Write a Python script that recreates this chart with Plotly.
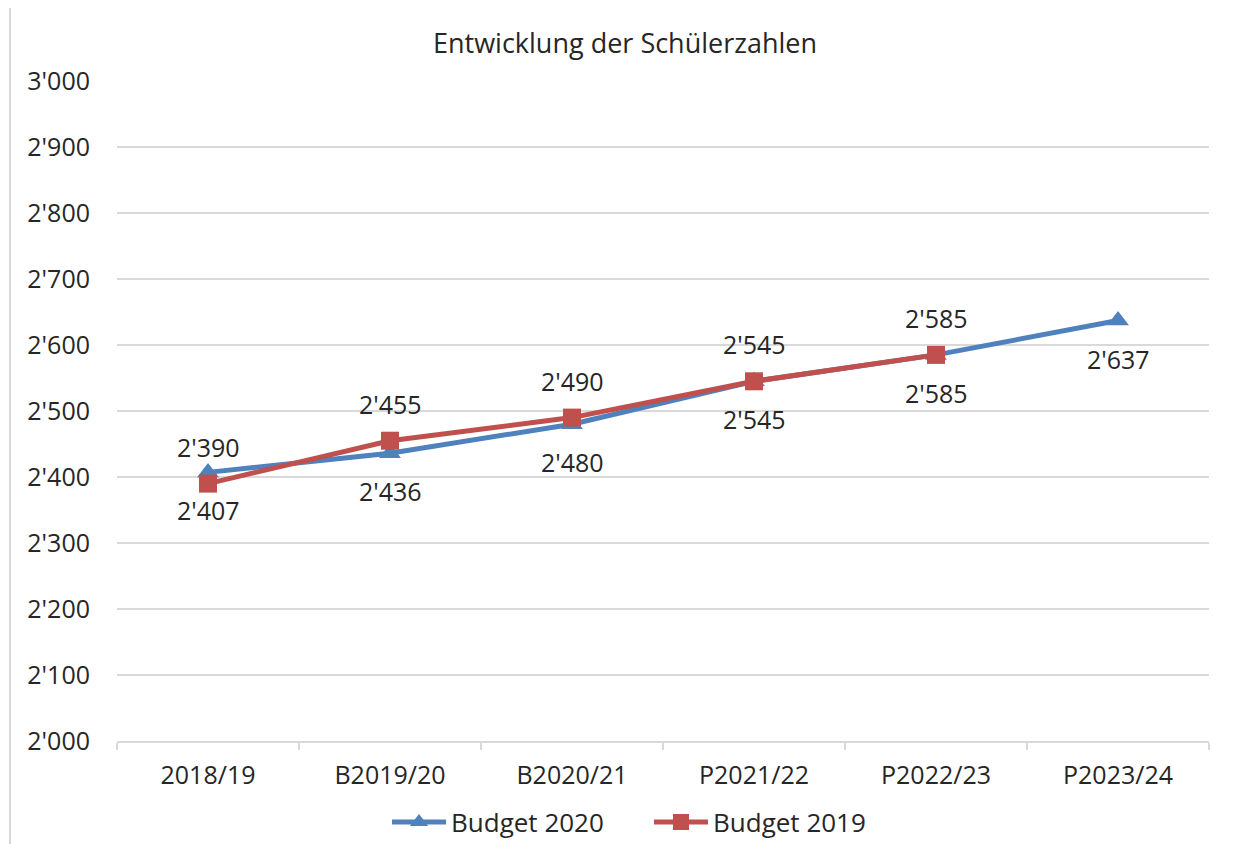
import plotly.graph_objects as go

categories = ["2018/19", "B2019/20", "B2020/21", "P2021/22", "P2022/23", "P2023/24"]
budget_2020 = [2407, 2436, 2480, 2545, 2585, 2637]
budget_2019 = [2390, 2455, 2490, 2545, 2585, None]
y_ticks = [2000, 2100, 2200, 2300, 2400, 2500, 2600, 2700, 2800, 2900, 3000]

def fmt(v):
    return f"{v:,}".replace(",", "'")

FONT = "Open Sans, Noto Sans, sans-serif"
TXT = "#262626"
BLUE = "#4f81bd"
RED = "#c0504d"

OFF = 8  # browser body margin
def px(v):
    return v - OFF

fig = go.Figure()
fig.add_trace(go.Scatter(
    x=categories, y=budget_2020, name="Budget 2020", mode="lines+markers",
    line=dict(color=BLUE, width=5),
    marker=dict(symbol="triangle-up", size=19, color=BLUE),
))
fig.add_trace(go.Scatter(
    x=categories, y=budget_2019, name="Budget 2019", mode="lines+markers",
    line=dict(color=RED, width=5),
    marker=dict(symbol="square", size=18, color=RED),
))

annotations = []
for c, v in zip(categories, budget_2020):
    annotations.append(dict(x=c, y=v, xref="x", yref="y", text=fmt(v), showarrow=False,
                            yshift=-38, font=dict(size=25, color=TXT, family=FONT)))
for c, v in zip(categories, budget_2019):
    if v is None:
        continue
    annotations.append(dict(x=c, y=v, xref="x", yref="y", text=fmt(v), showarrow=False,
                            yshift=37, font=dict(size=25, color=TXT, family=FONT)))

L, R, T, B = px(117), px(1209), px(81), px(741)
W, H = 1236 - OFF, 844 - OFF
pw, ph = R - L, B - T

fig.update_layout(
    width=W, height=H,
    margin=dict(l=L, r=W - R, t=T, b=H - B, autoexpand=False),
    paper_bgcolor="white", plot_bgcolor="white",
    font=dict(family=FONT, size=25, color=TXT),
    title=dict(text="Entwicklung der Schülerzahlen", x=px(625) / W, xanchor="center",
               y=1 - px(44) / H, yanchor="middle", xref="container", yref="container",
               font=dict(size=27, color=TXT, family=FONT)),
    showlegend=True,
    legend=dict(orientation="h", x=(px(387) - L) / pw, xanchor="left",
                y=-(px(822) - B) / ph, yanchor="middle",
                font=dict(size=26, color=TXT, family=FONT),
                entrywidth=193, entrywidthmode="pixels",
                itemwidth=54, bgcolor="rgba(0,0,0,0)"),
    annotations=annotations,
    shapes=[dict(type="rect", xref="paper", yref="paper",
                 x0=(px(10) - L) / pw, x1=(1300 - L) / pw,
                 y0=-(900 - B) / ph, y1=1 + (T - px(6)) / ph,
                 line=dict(color="#d9d9d9", width=2), layer="below")],
)
fig.update_xaxes(
    type="category", categoryorder="array", categoryarray=categories,
    range=[-0.5, 5.5], showgrid=False,
    showline=True, linecolor="#d9d9d9", linewidth=2,
    ticks="outside", tickson="boundaries", ticklen=7, tickcolor="#d9d9d9", tickwidth=2,
    tickfont=dict(size=25, color=TXT, family=FONT), ticklabelstandoff=11,
)
fig.update_yaxes(
    range=[2000, 3000], tickvals=y_ticks, ticktext=[fmt(v) for v in y_ticks],
    showgrid=True, gridcolor="#d9d9d9", gridwidth=2,
    showline=False, zeroline=False, ticks="",
    tickfont=dict(size=25, color=TXT, family=FONT), ticklabelstandoff=26,
)
fig.write_html("out.html")
